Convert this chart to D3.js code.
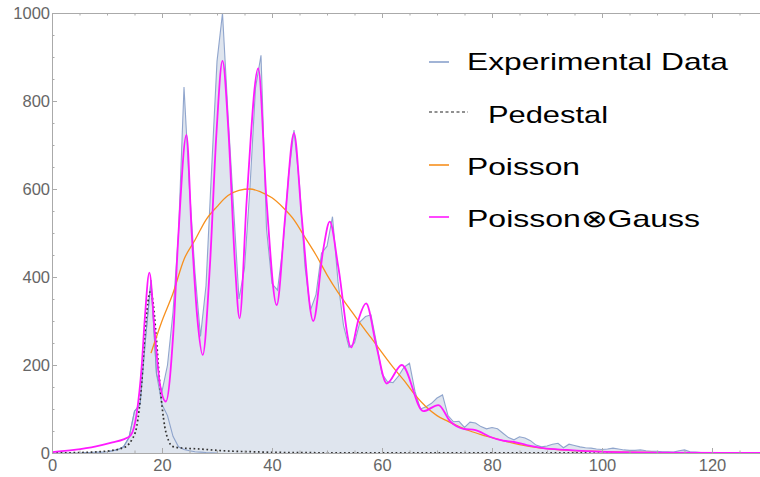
<!DOCTYPE html>
<html>
<head>
<meta charset="utf-8">
<script src="https://cdn.jsdelivr.net/npm/d3@7"></script>
<style>
  body { margin: 0; background: #fff; }
  svg { display: block; font-family: "Liberation Sans", Arial, sans-serif; }
</style>
</head>
<body>
<div id="chart"></div>
<script>
var width = 760, height = 477;

// experimental data, one value per channel starting at 0
var expCounts = [0,0,0,0,0,0,1,1,2,2,3,5,8,14,35,95,110,260,393,180,
  140,200,320,500,832,600,410,265,380,640,890,1000,770,560,350,420,605,830,904,510,
  385,370,470,630,734,610,423,325,360,454,470,537,390,290,240,250,298,310,314,250,
  180,162,160,175,195,204,140,100,105,113,125,132,85,71,72,58,70,68,60,55,
  58,55,45,35,30,37,34,28,18,14,16,20,22,12,20,17,14,12,11,9,
  8,9,11,9,7,6,6,7,5,4,4,3,3,2,5,7,3,2,1,1,
  1,1,0,0,0,0,0,0,0,0];

// measured pedestal (same style as the data)
var pedDataX = [10,11,12,13,14,15,16,17,18,19,20,21,22,23,24,25,26,27,28,30];
var pedDataY = [3,5,8,14,35,95,110,260,393,180,110,85,38,14,8,5,3,2,1,0];

// pedestal fit (dotted)
var pedFitX = [0,5,8.7,11,12.5,13.6,14.5,15.4,16.3,16.9,17.4,17.9,18.4,18.9,19.6,20.5,21.2,21.8,22.5,24,27,30,33,36,40,50,60,130];
var pedFitY = [0,1,3,6,10,16,30,60,158,272,340,367,340,272,158,60,28,16,13,11,9,6,4,3,1.5,0.5,0.2,0];

// poisson envelope
var poisX = [18,20,22,24,26,28,30,32,34,36,38,40,42,44,46,48,50,52,54,56,58,60,62,64,66,68,70,72,74,76,78,80,82,84,86,88,90,94,98,104,110,120,130];
var poisY = [227,300,363,440,484,530,560,585,597,600,593,580,558,530,490,450,405,365,330,295,262,228,195,165,132,105,85,72,60,50,42,35,28,22,17,13,10,6,4,2,1,0,0];

// poisson convolved with gauss
var pgX = [0,4,8,11,13,14.3,15.4,16.3,16.9,17.7,18.7,19.6,20.7,22.05,23,24.45,25.4,26.4,27.4,28.7,29.9,31,32.1,33.3,34.1,35.4,37.5,39,40.85,42.4,44,45.4,47.5,49.3,50.5,52.05,54.4,55.7,57.1,59,60.85,63.6,67.5,70.25,72.4,74.8,77,79.6,82,84,86.3,89.3,93.6,99.6,110,130];
var pgY = [2,7,15,24,31,40,90,196,310,410,272,158,117,272,500,723,500,310,223,423,727,891,727,423,306,575,874,575,336,537,727,537,300,461,526,423,240,302,340,242,158,200,95,109,72,55,52,37,28,25,18,11,7,3,1,0];

var xMajor = [0,20,40,60,80,100,120];
var yMajor = [0,200,400,600,800,1000];

var legendLabels = ["Experimental Data", "Pedestal", "Poisson", "Poisson\u2297Gauss"];

var axisColor = "#aaaaaa";
var labelColor = "#666666";

var svg = d3.select("#chart").append("svg")
    .attr("width", width)
    .attr("height", height);

var x = d3.scaleLinear().domain([0, 130]).range([52, 767]);
var y = d3.scaleLinear().domain([0, 1000]).range([453, 13]);

svg.append("defs").append("clipPath").attr("id", "clip")
  .append("rect").attr("x", 52).attr("y", 0).attr("width", 708).attr("height", 454);

var plot = svg.append("g").attr("clip-path", "url(#clip)");

var expPts = expCounts.map(function(v, i) { return [i, v]; });
var pedPts = pedDataX.map(function(v, i) { return [v, pedDataY[i]]; });
var pedFitPts = pedFitX.map(function(v, i) { return [v, pedFitY[i]]; });
var poisPts = poisX.map(function(v, i) { return [v, poisY[i]]; });
var pgPts = pgX.map(function(v, i) { return [v, pgY[i]]; });

var area = d3.area()
    .x(function(d) { return x(d[0]); })
    .y0(y(0))
    .y1(function(d) { return y(d[1]); });

var line = d3.line()
    .x(function(d) { return x(d[0]); })
    .y(function(d) { return y(d[1]); });

var smooth = d3.line()
    .x(function(d) { return x(d[0]); })
    .y(function(d) { return y(d[1]); })
    .curve(d3.curveMonotoneX);

plot.append("path")
    .datum(expPts)
    .attr("d", area)
    .attr("fill", "#dfe5ee");

plot.append("path")
    .datum(expPts)
    .attr("d", line)
    .attr("fill", "none")
    .attr("stroke", "#7f98c6")
    .attr("stroke-opacity", 0.85)
    .attr("stroke-width", 1.1);

plot.append("path")
    .datum(pedPts)
    .attr("d", line)
    .attr("fill", "none")
    .attr("stroke", "#7f98c6")
    .attr("stroke-opacity", 0.85)
    .attr("stroke-width", 1.1);

plot.append("path")
    .datum(pedFitPts)
    .attr("d", smooth)
    .attr("fill", "none")
    .attr("stroke", "#333")
    .attr("stroke-width", 1.7)
    .attr("stroke-dasharray", "1.7,2.6");

plot.append("path")
    .datum(poisPts)
    .attr("d", smooth)
    .attr("fill", "none")
    .attr("stroke", "#f7901e")
    .attr("stroke-width", 1.3);

plot.append("path")
    .datum(pgPts)
    .attr("d", smooth)
    .attr("fill", "none")
    .attr("stroke", "#ff1aff")
    .attr("stroke-width", 1.8);

// frame and ticks
function styleAxis(g) {
    g.select(".domain").attr("stroke", axisColor);
    g.selectAll(".tick line").attr("stroke", axisColor);
    g.selectAll(".tick text")
        .attr("fill", labelColor)
        .style("font-size", "16.5px")
        .style("font-family", "'Liberation Sans', Arial, sans-serif");
}

var xMinor = d3.range(0, 131, 5);
var yMinor = d3.range(0, 1001, 50);

svg.append("g")
    .attr("transform", "translate(0," + y(0) + ")")
    .call(d3.axisBottom(x).tickValues(xMinor).tickSize(-2.5).tickFormat("").tickSizeOuter(0))
    .call(styleAxis);

svg.append("g")
    .attr("transform", "translate(0," + y(0) + ")")
    .call(d3.axisBottom(x).tickValues(xMajor).tickSize(-5).tickPadding(6).tickFormat(d3.format("d")).tickSizeOuter(0))
    .call(styleAxis);

svg.append("g")
    .attr("transform", "translate(0," + y(1000) + ")")
    .call(d3.axisTop(x).tickValues(xMinor).tickSize(-2.5).tickFormat("").tickSizeOuter(0))
    .call(styleAxis);

svg.append("g")
    .attr("transform", "translate(0," + y(1000) + ")")
    .call(d3.axisTop(x).tickValues(xMajor).tickSize(-5).tickFormat("").tickSizeOuter(0))
    .call(styleAxis);

svg.append("g")
    .attr("transform", "translate(" + x(0) + ",0)")
    .call(d3.axisLeft(y).tickValues(yMinor).tickSize(-2.5).tickFormat("").tickSizeOuter(0))
    .call(styleAxis);

svg.append("g")
    .attr("transform", "translate(" + x(0) + ",0)")
    .call(d3.axisLeft(y).tickValues(yMajor).tickSize(-5).tickPadding(2).tickFormat(d3.format("d")).tickSizeOuter(0))
    .call(styleAxis);

// legend (text in the original is drawn wide, so stretch to its measured widths)
var legendLineY = [62, 112, 165, 217];
var legendBase = [70, 123, 175, 227];
var legendColors = ["#8aa1cc", "#222", "#f7901e", "#ff1aff"];
var legendTextX = [467, 488, 467, 467];
var legendTextW = [261, 120, 113, 233];

var legend = svg.append("g");

legendLabels.forEach(function(label, i) {
    var len = i == 1 ? 39 : 20;
    legend.append("line")
        .attr("x1", 429).attr("x2", 429 + len)
        .attr("y1", legendLineY[i]).attr("y2", legendLineY[i])
        .attr("stroke", legendColors[i])
        .attr("stroke-width", i == 1 ? 1.2 : 1.6)
        .attr("stroke-dasharray", i == 1 ? "3,2.5" : null);
    legend.append("text")
        .attr("x", legendTextX[i])
        .attr("y", legendBase[i])
        .attr("fill", "#000")
        .attr("textLength", legendTextW[i])
        .attr("lengthAdjust", "spacingAndGlyphs")
        .style("font-size", "24px")
        .text(label);
});
</script>
</body>
</html>
